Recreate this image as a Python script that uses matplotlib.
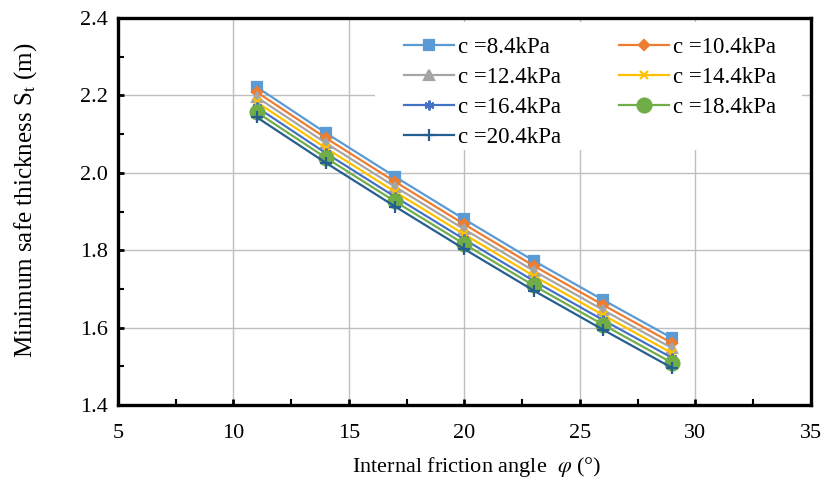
import numpy as np
import matplotlib
matplotlib.use('Agg')
import matplotlib.pyplot as plt
from matplotlib.ticker import MultipleLocator
from matplotlib.patches import Rectangle

plt.rcParams['font.family'] = ['Liberation Serif', 'DejaVu Serif']
plt.rcParams['mathtext.fontset'] = 'stix'

# friction angle (deg)
PHI = [11, 14, 17, 20, 23, 26, 29]
LABELS = ['c =8.4kPa', 'c =10.4kPa', 'c =12.4kPa', 'c =14.4kPa',
          'c =16.4kPa', 'c =18.4kPa', 'c =20.4kPa']
S_84 = [2.222, 2.103, 1.990, 1.880, 1.773, 1.672, 1.573]
S_104 = [2.209, 2.090, 1.977, 1.867, 1.760, 1.659, 1.560]
S_124 = [2.196, 2.077, 1.964, 1.854, 1.747, 1.646, 1.547]
S_144 = [2.183, 2.064, 1.951, 1.841, 1.734, 1.633, 1.534]
S_164 = [2.170, 2.051, 1.938, 1.828, 1.721, 1.620, 1.522]
S_184 = [2.157, 2.039, 1.926, 1.816, 1.709, 1.608, 1.509]
S_204 = [2.144, 2.026, 1.913, 1.803, 1.696, 1.595, 1.496]
SERIES = [S_84, S_104, S_124, S_144, S_164, S_184, S_204]

# colour, marker, marker size
STYLES = [('#5B9BD5', 's', 7),
          ('#ED7D31', 'D', 5),
          ('#A5A5A5', '^', 7),
          ('#FFC000', 'x', 6),
          ('#4472C4', (6, 2, 0), 7),
          ('#70AD47', 'o', 10),
          ('#255E91', '+', 8)]

fig = plt.figure(figsize=(8.35, 4.8), dpi=100)
ax = fig.add_axes([0.1413, 0.156, 0.8297, 0.8065])

handles = []
for vals, lab, (c, mk, ms) in zip(SERIES, LABELS, STYLES):
    h, = ax.plot(PHI, vals, color=c, lw=1.6, marker=mk, ms=ms, mfc=c, mec=c,
                 mew=1.6, label=lab, zorder=3)
    handles.append(h)

ax.set_xlim(5, 35)
ax.set_ylim(1.4, 2.4)
ax.xaxis.set_major_locator(MultipleLocator(5))
ax.xaxis.set_minor_locator(MultipleLocator(2.5))
ax.yaxis.set_major_locator(MultipleLocator(0.2))
ax.yaxis.set_minor_locator(MultipleLocator(0.1))
ax.yaxis.set_major_formatter(plt.FuncFormatter(lambda v, p: f'{v:.1f}'))
ax.tick_params(which='both', direction='in', labelsize=16,
               top=False, right=False)
ax.tick_params(axis='x', which='major', pad=13.5)
ax.tick_params(axis='y', which='major', pad=7)
ax.tick_params(which='major', length=4, width=2)
ax.tick_params(which='minor', length=4, width=1.5)
ax.grid(which='major', color='#BFBFBF', lw=1)
for s in ax.spines.values():
    s.set_linewidth(2.4)
    s.set_color('black')

ax.set_xlabel(r'Internal friction angle  $\varphi$ (°)', fontsize=16)
ax.xaxis.set_label_coords(0.518, -0.129)
ax.set_ylabel(r'Minimum safe thickness S$_{\mathrm{t}}$ (m)', fontsize=18)
ax.yaxis.set_label_coords(-0.114, 0.53)

# white legend area hiding the grid
ax.add_patch(Rectangle((0.371, 0.659), 0.616, 0.331, transform=ax.transAxes,
                       facecolor='white', edgecolor='none', zorder=2.5))
order = [0, 2, 4, 6, 1, 3, 5]
leg = ax.legend([handles[i] for i in order], [LABELS[i] for i in order],
                ncol=2, loc='upper left', bbox_to_anchor=(0.403, 0.97),
                fontsize=16.5, frameon=False, handlelength=2.2,
                handletextpad=0.15, columnspacing=2.52, labelspacing=0.4,
                borderpad=0.3, borderaxespad=0)
leg.set_zorder(5)

fig.savefig('out.png', dpi=100)
